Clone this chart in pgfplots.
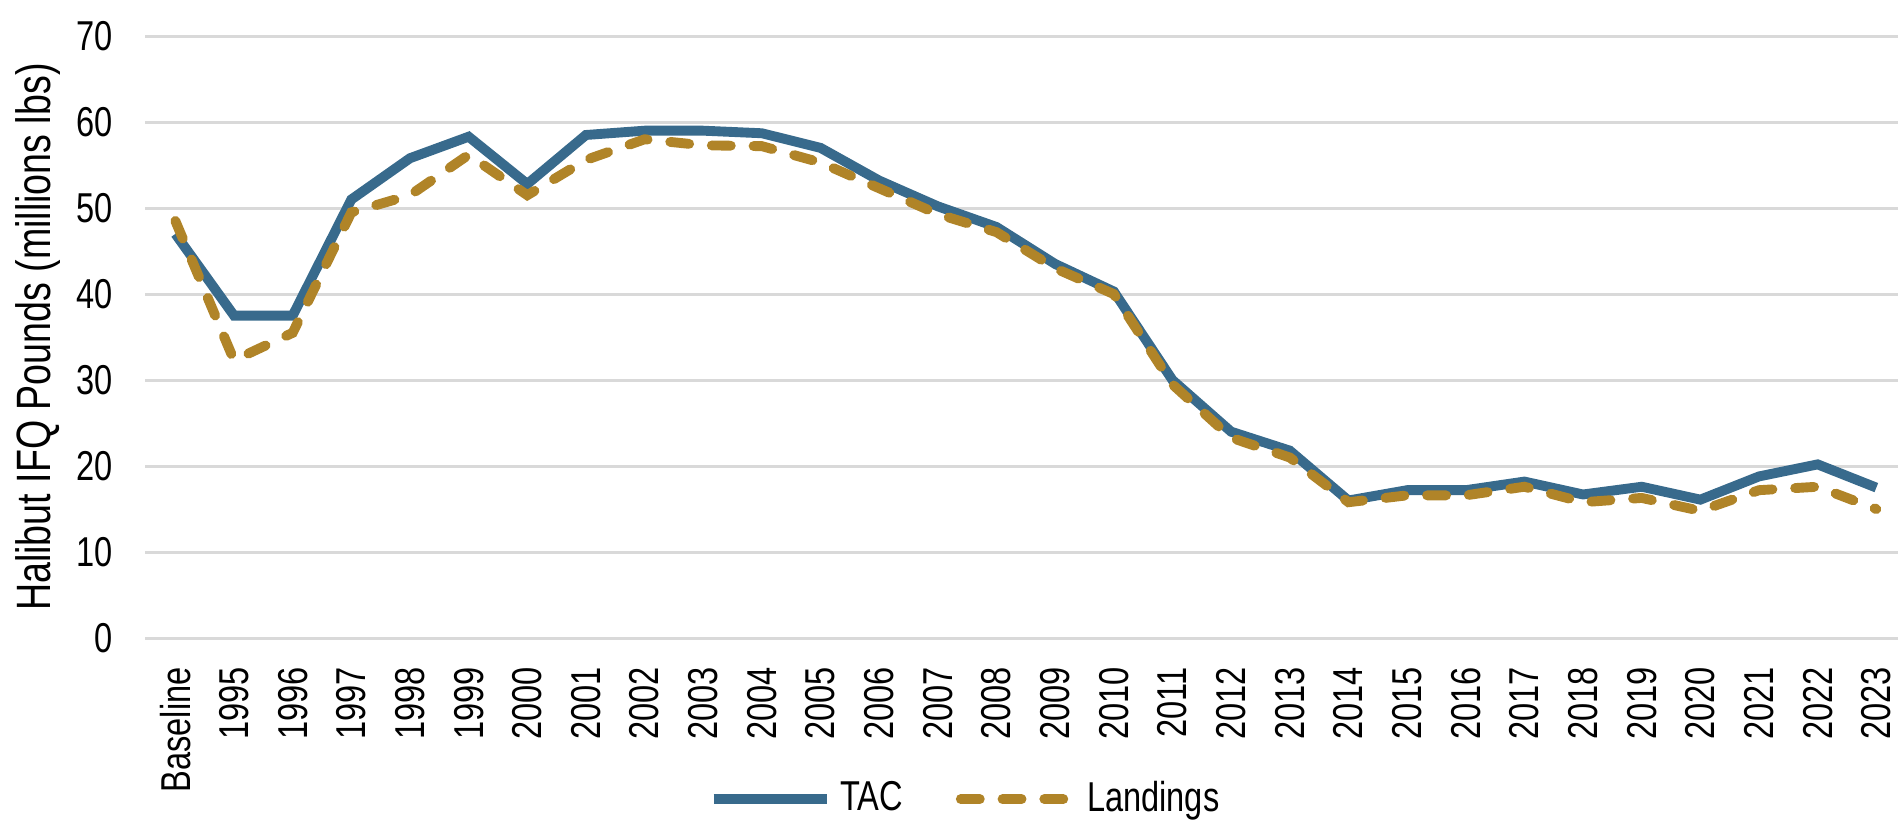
\documentclass[border=0pt]{standalone}
\usepackage{pgfplots}
\pgfplotsset{compat=1.18}
\usepackage{pgfplotstable}
\usepackage{fontspec}
\setmainfont{Liberation Sans}[FakeStretch=0.78]
\definecolor{tacblue}{RGB}{56,106,140}
\definecolor{landgold}{RGB}{176,132,40}
\definecolor{gridgray}{RGB}{217,217,217}

\pgfplotstableread{
x tac land
0 47.0 48.5
1 37.5 32.3
2 37.5 35.5
3 51.0 49.5
4 55.8 51.5
5 58.3 56.2
6 52.8 51.5
7 58.5 55.6
8 59.0 58.0
9 59.0 57.3
10 58.7 57.2
11 57.0 55.3
12 53.2 52.3
13 50.2 49.3
14 47.8 47.2
15 43.5 43.0
16 40.3 40.0
17 30.0 29.5
18 24.0 23.3
19 21.8 21.0
20 16.0 15.8
21 17.2 16.6
22 17.2 16.6
23 18.2 17.6
24 16.7 15.8
25 17.6 16.3
26 16.1 14.8
27 18.8 17.2
28 20.2 17.6
29 17.5 15.0
}\datatable

\begin{document}
\begin{tikzpicture}
\useasboundingbox (-38.2pt,-48.7pt) rectangle (461.8pt,168.1pt);
\begin{axis}[
  at={(0,0)}, anchor=south west,
  width=461.8pt, height=158.6pt, scale only axis,
  xmin=-0.518, xmax=29.37,
  ymin=0, ymax=70,
  ytick={0,10,...,70},
  xtick={0,...,29},
  xticklabels={Baseline,1995,1996,1997,1998,1999,2000,2001,2002,2003,2004,2005,2006,2007,2008,2009,2010,2011,2012,2013,2014,2015,2016,2017,2018,2019,2020,2021,2022,2023},
  axis line style={draw=none},
  major tick length=0pt,
  ymajorgrids, xmajorgrids=false,
  grid style={gridgray, line width=0.8pt},
  /pgf/number format/assume math mode=true,
  tick label style={font=\fontsize{11}{13}\selectfont, text=black},
  yticklabel style={anchor=east, xshift=-5pt},
  xticklabel style={rotate=90, anchor=east, yshift=0pt, xshift=-4.2pt},
  ylabel={Halibut IFQ Pounds (millions lbs)},
  ylabel style={at={(axis description cs:-0.0613,0.5)}, anchor=center, font=\fontsize{12.7}{14}\selectfont},
  legend style={draw=none, fill=none, inner sep=0pt, legend columns=2,
    at={(rel axis cs:0.3211,-0.2675)}, anchor=west,
    font=\fontsize{11}{13}\selectfont,
    /tikz/every even column/.append style={column sep=12pt}},
  legend image code/.code={\draw[#1] (0pt,0pt) -- (30pt,0pt);},
  clip=false,
]
\addplot[tacblue, line width=2.6pt, line join=miter] table[x=x, y=tac] {\datatable};
\addlegendentry{TAC}
\addplot[landgold, line width=2.6pt, line cap=round, dash pattern=on 5pt off 6pt] table[x=x, y=land] {\datatable};
\addlegendentry{Landings}
\end{axis}
\end{tikzpicture}
\end{document}
